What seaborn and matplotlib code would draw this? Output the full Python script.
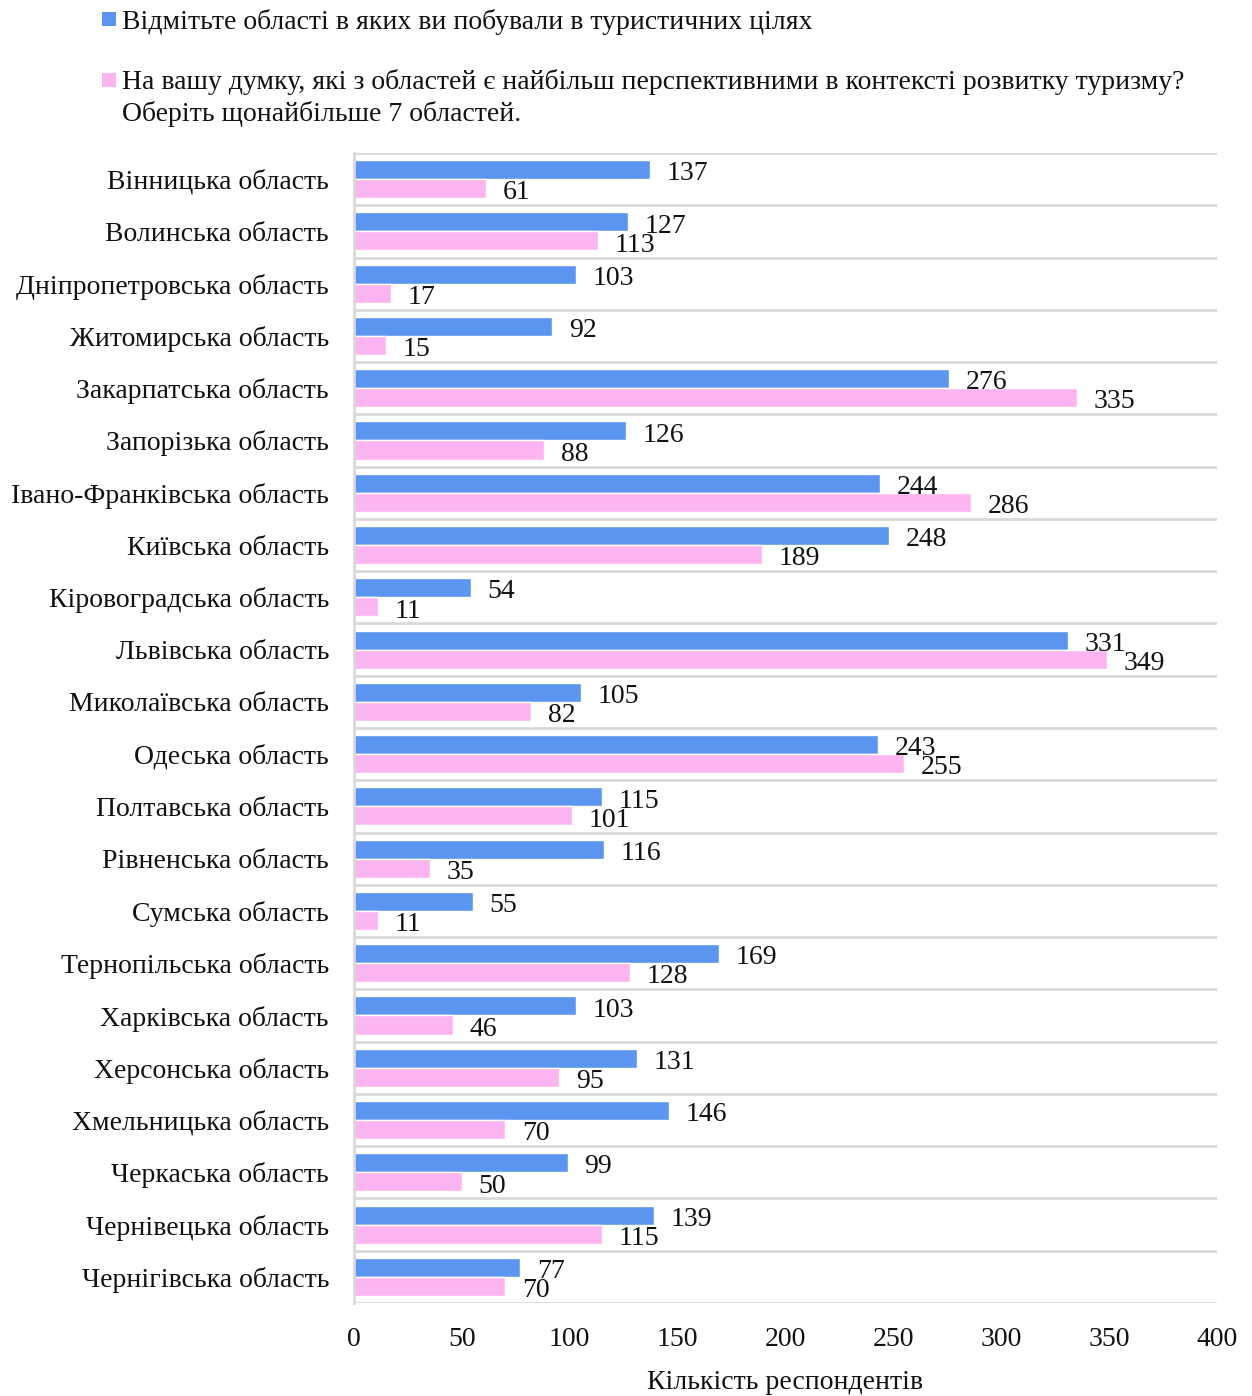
import numpy as np
import pandas as pd
import matplotlib
matplotlib.use("Agg")
import matplotlib.pyplot as plt
from matplotlib.patches import Rectangle
import seaborn as sns

regions = [
    "Вінницька область", "Волинська область", "Дніпропетровська область",
    "Житомирська область", "Закарпатська область", "Запорізька область",
    "Івано-Франківська область", "Київська область", "Кіровоградська область",
    "Львівська область", "Миколаївська область", "Одеська область",
    "Полтавська область", "Рівненська область", "Сумська область",
    "Тернопільська область", "Харківська область", "Херсонська область",
    "Хмельницька область", "Черкаська область", "Чернівецька область",
    "Чернігівська область",
]
visited = [137, 127, 103, 92, 276, 126, 244, 248, 54, 331, 105,
           243, 115, 116, 55, 169, 103, 131, 146, 99, 139, 77]
promising = [61, 113, 17, 15, 335, 88, 286, 189, 11, 349, 82,
             255, 101, 35, 11, 128, 46, 95, 70, 50, 115, 70]

series_visited = "Відмітьте області в яких ви побували в туристичних цілях"
series_promising_1 = "На вашу думку, які з областей є найбільш перспективними в контексті розвитку туризму?"
series_promising_2 = "Оберіть щонайбільше 7 областей."

x_ticks = [0, 50, 100, 150, 200, 250, 300, 350, 400]
x_label = "Кількість респондентів"

BLUE = "#5b95ef"
PINK = "#fdb5f1"
GRID = "#d9d9d9"
TEXT = "#111111"
FS = 20

df = pd.concat([
    pd.DataFrame({"region": regions, "value": visited, "series": "visited"}),
    pd.DataFrame({"region": regions, "value": promising, "series": "promising"}),
], ignore_index=True)

sns.set_theme(style="white")
plt.rcParams["font.family"] = ["Liberation Serif", "DejaVu Serif"]
plt.rcParams["font.size"] = FS

W, H = 1252, 1396
fig = plt.figure(figsize=(W / 100, H / 100), dpi=100)
ax = fig.add_axes([354 / W, 1 - 1303 / H, (1217 - 354) / W, (1303 - 153) / H])

sns.barplot(data=df, y="region", x="value", hue="series",
            hue_order=["visited", "promising"], palette=[BLUE, PINK],
            orient="h", width=0.73, gap=0, saturation=1,
            legend=False, ax=ax)

for cont in ax.containers:
    anns = ax.bar_label(cont, fmt="%d", padding=12, fontsize=FS, color=TEXT)
    for a in anns:
        a.xyann = (12, -3)

n = len(regions)
ax.set_xlim(0, 400)
ax.set_ylim(n - 0.5, -0.5)
ax.set_xticks(x_ticks)
ax.set_xticklabels([str(t) for t in x_ticks])
ax.set_yticks(range(n))
ax.set_yticks(np.arange(-0.5, n, 1.0), minor=True)
ax.grid(False)
ax.grid(axis="y", which="minor", color=GRID, linewidth=2)
ax.tick_params(axis="both", which="both", length=0, labelsize=FS, colors=TEXT)
ax.tick_params(axis="x", pad=17)
ax.tick_params(axis="y", pad=18)
ax.set_ylabel("")
ax.set_xlabel(x_label, fontsize=FS, labelpad=13, color=TEXT)
for side in ["top", "right", "bottom"]:
    ax.spines[side].set_visible(False)
ax.spines["left"].set_color(GRID)
ax.spines["left"].set_linewidth(2)

# legend drawn in figure pixel coordinates
def fy(py):
    return 1 - py / H

fig.add_artist(Rectangle((102 / W, fy(26)), 14 / W, 14 / H, transform=fig.transFigure,
                         facecolor=BLUE, edgecolor="none"))
fig.add_artist(Rectangle((102 / W, fy(87)), 14 / W, 14 / H, transform=fig.transFigure,
                         facecolor=PINK, edgecolor="none"))
fig.text(122 / W, fy(29), series_visited, fontsize=FS, va="baseline", ha="left", color=TEXT)
fig.text(122 / W, fy(89), series_promising_1, fontsize=FS, va="baseline", ha="left", color=TEXT)
fig.text(122 / W, fy(121), series_promising_2, fontsize=FS, va="baseline", ha="left", color=TEXT)

fig.savefig("out.png", dpi=100, facecolor="white")
